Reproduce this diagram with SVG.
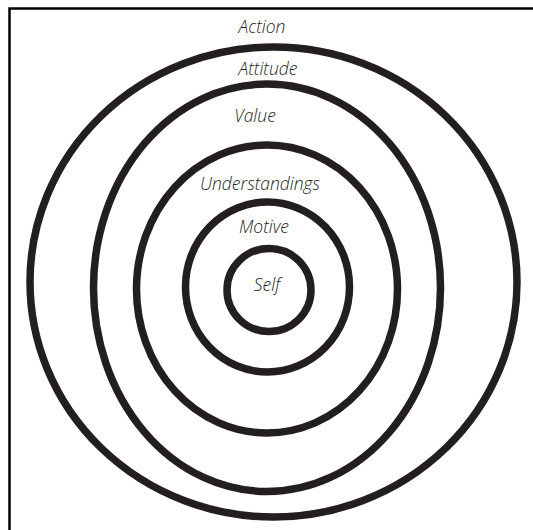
<svg xmlns="http://www.w3.org/2000/svg" width="533" height="530" viewBox="0 0 533 530">
<style>
.ring{fill:none;stroke:#231f20;stroke-width:7.5}
.lbl{font-family:"Open Sans","Noto Sans",sans-serif;font-style:italic;font-weight:300;font-size:17.5px;fill:#231f20;text-anchor:middle}
</style>
<rect x="0" y="0" width="533" height="530" fill="#ffffff"/>
<rect x="9.5" y="8.5" width="540" height="540" fill="none" stroke="#000" stroke-width="2.5"/>
<g id="connectors"></g>
<g id="action"><text class="lbl" x="262" y="32.5">Action</text></g>
<g id="attitude"><ellipse class="ring" cx="273.5" cy="282" rx="243.5" ry="235"/><text class="lbl" x="268" y="74.5">Attitude</text></g>
<g id="value"><ellipse class="ring" cx="267" cy="287.75" rx="173.5" ry="203.75"/><text class="lbl" x="255" y="121.5">Value</text></g>
<g id="understandings"><ellipse class="ring" cx="267" cy="289" rx="130.5" ry="144"/><text class="lbl" x="260" y="189.5">Understandings</text></g>
<g id="motive"><ellipse class="ring" cx="267.5" cy="287" rx="82" ry="85"/><text class="lbl" x="264" y="232.5">Motive</text></g>
<g id="self"><ellipse class="ring" cx="269" cy="290" rx="42" ry="41.5"/><text class="lbl" x="267" y="290.5">Self</text></g>
</svg>
